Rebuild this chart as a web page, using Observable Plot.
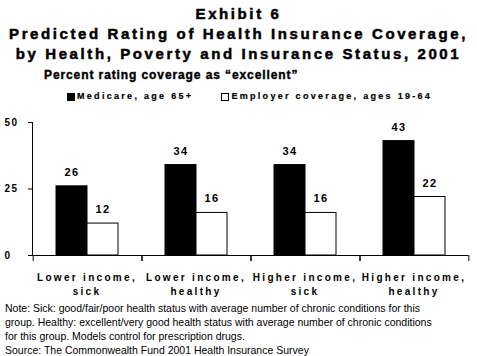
<!DOCTYPE html>
<html>
<head>
<meta charset="utf-8">
<script src="https://cdn.jsdelivr.net/npm/d3@7"></script>
<script src="https://cdn.jsdelivr.net/npm/@observablehq/plot@0.6"></script>
<style>
  html, body { margin: 0; padding: 0; background: #fff; }
  #wrap { position: relative; width: 477px; height: 356px; font-family: "Liberation Sans", Arial, sans-serif; color: #000; overflow: hidden; }
  .t { position: absolute; left: 0; width: 477px; text-align: center; font-weight: bold; font-size: 15px; letter-spacing: 2.6px; -webkit-text-stroke: 0.5px #000; white-space: nowrap; line-height: 1; }
  #sub { position: absolute; left: 44px; top: 69px; font-weight: bold; font-size: 12px; letter-spacing: 0.9px; -webkit-text-stroke: 0.4px #000; white-space: nowrap; line-height: 1; }
  #legend { position: absolute; top: 92px; left: 67px; font-weight: bold; font-size: 9px; letter-spacing: 2.3px; -webkit-text-stroke: 0.2px #000; white-space: nowrap; line-height: 1; display: flex; align-items: center; }
  .sw { display: inline-block; width: 8px; height: 8px; border: 1px solid #000; box-sizing: border-box; margin-right: 2px; }
  .item { display: flex; align-items: center; margin-right: 28px; }
  #chart { position: absolute; left: 0; top: 108px; }
  #note { position: absolute; left: 5px; top: 301px; font-size: 10.5px; line-height: 14px; white-space: nowrap; }
  svg text { font-family: "Liberation Sans", Arial, sans-serif; }
  g[aria-label="fx-axis tick label"] text { letter-spacing: 2.3px; -webkit-text-stroke: 0.2px #000; }
  g[aria-label="y-axis tick label"] text { letter-spacing: 1.5px; -webkit-text-stroke: 0.3px #000; }
  g[aria-label="text"] text { letter-spacing: 1.5px; -webkit-text-stroke: 0.3px #000; }
</style>
</head>
<body>
<div id="wrap">
  <div class="t" style="top:6px">Exhibit 6</div>
  <div class="t" style="top:26px">Predicted Rating of Health Insurance Coverage,</div>
  <div class="t" style="top:46px">by Health, Poverty and Insurance Status, 2001</div>
  <div id="sub">Percent rating coverage as “excellent”</div>
  <div id="legend"></div>
  <div id="chart"></div>
  <div id="note">Note: Sick: good/fair/poor health status with average number of chronic conditions for this<br>group. Healthy: excellent/very good health status with average number of chronic conditions<br>for this group. Models control for prescription drugs.<br>Source: The Commonwealth Fund 2001 Health Insurance Survey</div>
</div>
<script>
const categories = ["Lower income,\nsick", "Lower income,\nhealthy", "Higher income,\nsick", "Higher income,\nhealthy"];
const seriesNames = ["Medicare, age 65+", "Employer coverage, ages 19-64"];
const seriesColors = ["#000000", "#ffffff"];
const medicare = [26, 34, 34, 43];
const employer = [12, 16, 16, 22];
const yTicks = [0, 25, 50];

const data = [];
categories.forEach((c, i) => {
  data.push({category: c, series: seriesNames[0], value: medicare[i]});
  data.push({category: c, series: seriesNames[1], value: employer[i]});
});

// legend
const legend = document.getElementById("legend");
seriesNames.forEach((s, i) => {
  const item = document.createElement("span");
  item.className = "item";
  const sw = document.createElement("span");
  sw.className = "sw";
  sw.style.background = seriesColors[i];
  item.appendChild(sw);
  item.appendChild(document.createTextNode(s));
  legend.appendChild(item);
});

const W = 477, mL = 31, mR = 9, pOuter = 0.73;
const facetW = (W - mL - mR) / categories.length;
const step = facetW / (seriesNames.length + 2 * pOuter);
// distance from a bar's centre to the facet edge
const edgeOffset = pOuter * step + step / 2;

const chart = Plot.plot({
  width: W,
  height: 200,
  marginTop: 14,
  marginBottom: 53,
  marginLeft: mL,
  marginRight: mR,
  style: {fontFamily: "Liberation Sans, Arial, sans-serif", color: "#000", overflow: "visible"},
  fx: {domain: categories, padding: 0, label: null, axis: null},
  x: {domain: seriesNames, paddingInner: 0, paddingOuter: pOuter, axis: null},
  y: {domain: [0, 50], axis: null},
  color: {domain: seriesNames, range: seriesColors},
  marks: [
    Plot.frame({anchor: "left", facetAnchor: "left", clip: false}),
    Plot.axisY({ticks: yTicks, tickSize: 4, tickPadding: 24, textAnchor: "start", fontSize: 10, fontWeight: "bold", label: null}),
    Plot.barY(data, {fx: "category", x: "series", y: "value", fill: "series", stroke: "#000", strokeWidth: 1}),
    Plot.ruleY([0]),
    // category boundary ticks below the baseline
    Plot.ruleX(categories, {fx: d => d, x: () => seriesNames[0], y1: () => 0, y2: () => 0, dx: -edgeOffset, insetBottom: -6, stroke: "#000", clip: false}),
    Plot.ruleX(categories, {fx: d => d, x: () => seriesNames[1], y1: () => 0, y2: () => 0, dx: edgeOffset, insetBottom: -6, stroke: "#000", clip: false}),
    Plot.axisFx({anchor: "bottom", tickSize: 0, tickPadding: 16, fontSize: 10, fontWeight: "bold", lineHeight: 1.35, label: null}),
    Plot.text(data, {fx: "category", x: "series", y: "value", text: "value", dy: -14, fontSize: 11, fontWeight: "bold"})
  ]
});
document.getElementById("chart").appendChild(chart);
</script>
</body>
</html>
